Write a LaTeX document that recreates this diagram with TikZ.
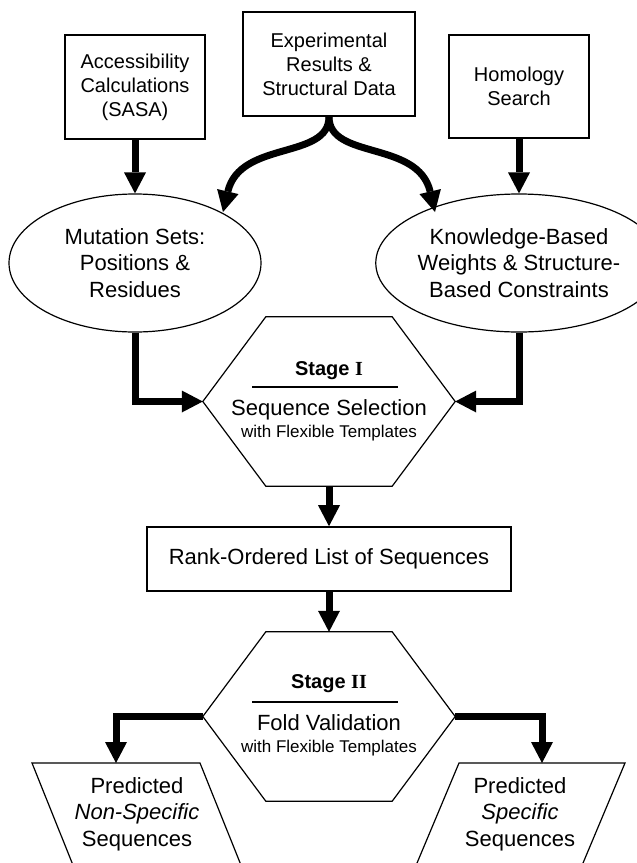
\documentclass[tikz,border=0pt]{standalone}
\usepackage{fontspec}
\setmainfont{Liberation Sans}
\newfontfamily\romfont{Liberation Serif}
\usetikzlibrary{shapes.geometric,arrows.meta,calc}
\tikzset{
  box/.style={draw, line width=1.6pt, align=center, inner sep=0pt, font=\fontsize{20}{24}\selectfont},
  oval/.style={draw, ellipse, line width=1.2pt, minimum width=252pt, minimum height=138pt, inner sep=0pt, align=center, font=\fontsize{22}{26.5}\selectfont},
  hexframe/.style={draw=none, minimum width=252pt, minimum height=169pt, inner sep=0pt},
  bigtxt/.style={anchor=base, inner sep=0pt, font=\fontsize{22}{26.5}\selectfont},
  smalltxt/.style={anchor=base, inner sep=0pt, font=\fontsize{17}{20}\selectfont},
  stagetxt/.style={anchor=base, inner sep=0pt, font=\fontsize{20}{24}\selectfont\bfseries},
  outline/.style={line width=1.2pt, line join=miter},
  arr/.style={line width=7pt, line join=miter, -{Triangle[width=22pt,length=21pt,line width=0pt]}},
  ptxt/.style={align=center, inner sep=0pt, font=\fontsize{22}{26.5}\selectfont}
}
\begin{document}
\begin{tikzpicture}[x=1pt,y=-1pt]
\path[use as bounding box, clip] (0,0) rectangle (637,863);
\fill[white] (0,0) rectangle (637,863);

% top boxes
\node[box, minimum width=140pt, minimum height=104pt] (acc) at (135,87) {Accessibility\\Calculations\\(SASA)};
\node[box, minimum width=172pt, minimum height=104pt] (exp) at (329,64) {Experimental\\Results \&\\Structural Data};
\node[box, minimum width=140pt, minimum height=103pt] (hom) at (519,86.5) {Homology\\Search};

% ellipses
\node[oval] (mut) at (135,263) {Mutation Sets:\\Positions \&\\Residues};
\node[oval] (kno) at (519,263) {Knowledge-Based\\Weights \& Structure-\\Based Constraints};

% Stage I hexagon
\node[hexframe] (h1) at (329,401.5) {};
\draw[outline] (h1.west) -- ($(h1.north west)+(63,0)$) -- ($(h1.north east)+(-63,0)$) -- (h1.east)
  -- ($(h1.south east)+(-63,0)$) -- ($(h1.south west)+(63,0)$) -- cycle;
\node[stagetxt] (s1a) at (329,375) {Stage {\romfont I}};
\draw[outline] (252,387) -- (398,387);
\node[bigtxt] (s1b) at (329,415) {Sequence Selection};
\node[smalltxt] (s1c) at (329,437) {with Flexible Templates};

% rank box
\node[box, minimum width=364pt, minimum height=64pt, font=\fontsize{22}{26.5}\selectfont] (rank) at (329,559) {Rank-Ordered List of Sequences};

% Stage II hexagon
\node[hexframe] (h2) at (329,716.5) {};
\draw[outline] (h2.west) -- ($(h2.north west)+(63,0)$) -- ($(h2.north east)+(-63,0)$) -- (h2.east)
  -- ($(h2.south east)+(-63,0)$) -- ($(h2.south west)+(63,0)$) -- cycle;
\node[stagetxt] (s2a) at (329,688) {Stage {\romfont II}};
\draw[outline] (252,702) -- (398,702);
\node[bigtxt] (s2b) at (329,730) {Fold Validation};
\node[smalltxt] (s2c) at (329,752) {with Flexible Templates};

% output parallelograms
\coordinate (p1t) at (116,763);
\coordinate (p2t) at (542,763);
\draw[outline] (32,763) -- (200,763) -- (255,900) -- (87,900) -- cycle;
\draw[outline] (459,763) -- (625,763) -- (567.5,900) -- (401.5,900) -- cycle;
\node[ptxt] (p1) at (137,814) {Predicted\\\textit{Non-Specific}\\Sequences};
\node[ptxt] (p2) at (520,814) {Predicted\\\textit{Specific}\\Sequences};

% connectors
\draw[arr] (acc.south) -- (mut.north);
\draw[arr] (hom.south) -- (kno.north);
\draw[arr] (exp.south) .. controls (329,160) and (240,140) .. (223,212);
\draw[arr] (exp.south) .. controls (329,160) and (418,140) .. (435,212);
\draw[arr] (mut.south) |- (h1.west);
\draw[arr] (kno.south) |- (h1.east);
\draw[arr] (h1.south) -- (rank.north);
\draw[arr] (rank.south) -- (h2.north);
\draw[arr] (h2.west) -| (p1t);
\draw[arr] (h2.east) -| (p2t);
\end{tikzpicture}
\end{document}
